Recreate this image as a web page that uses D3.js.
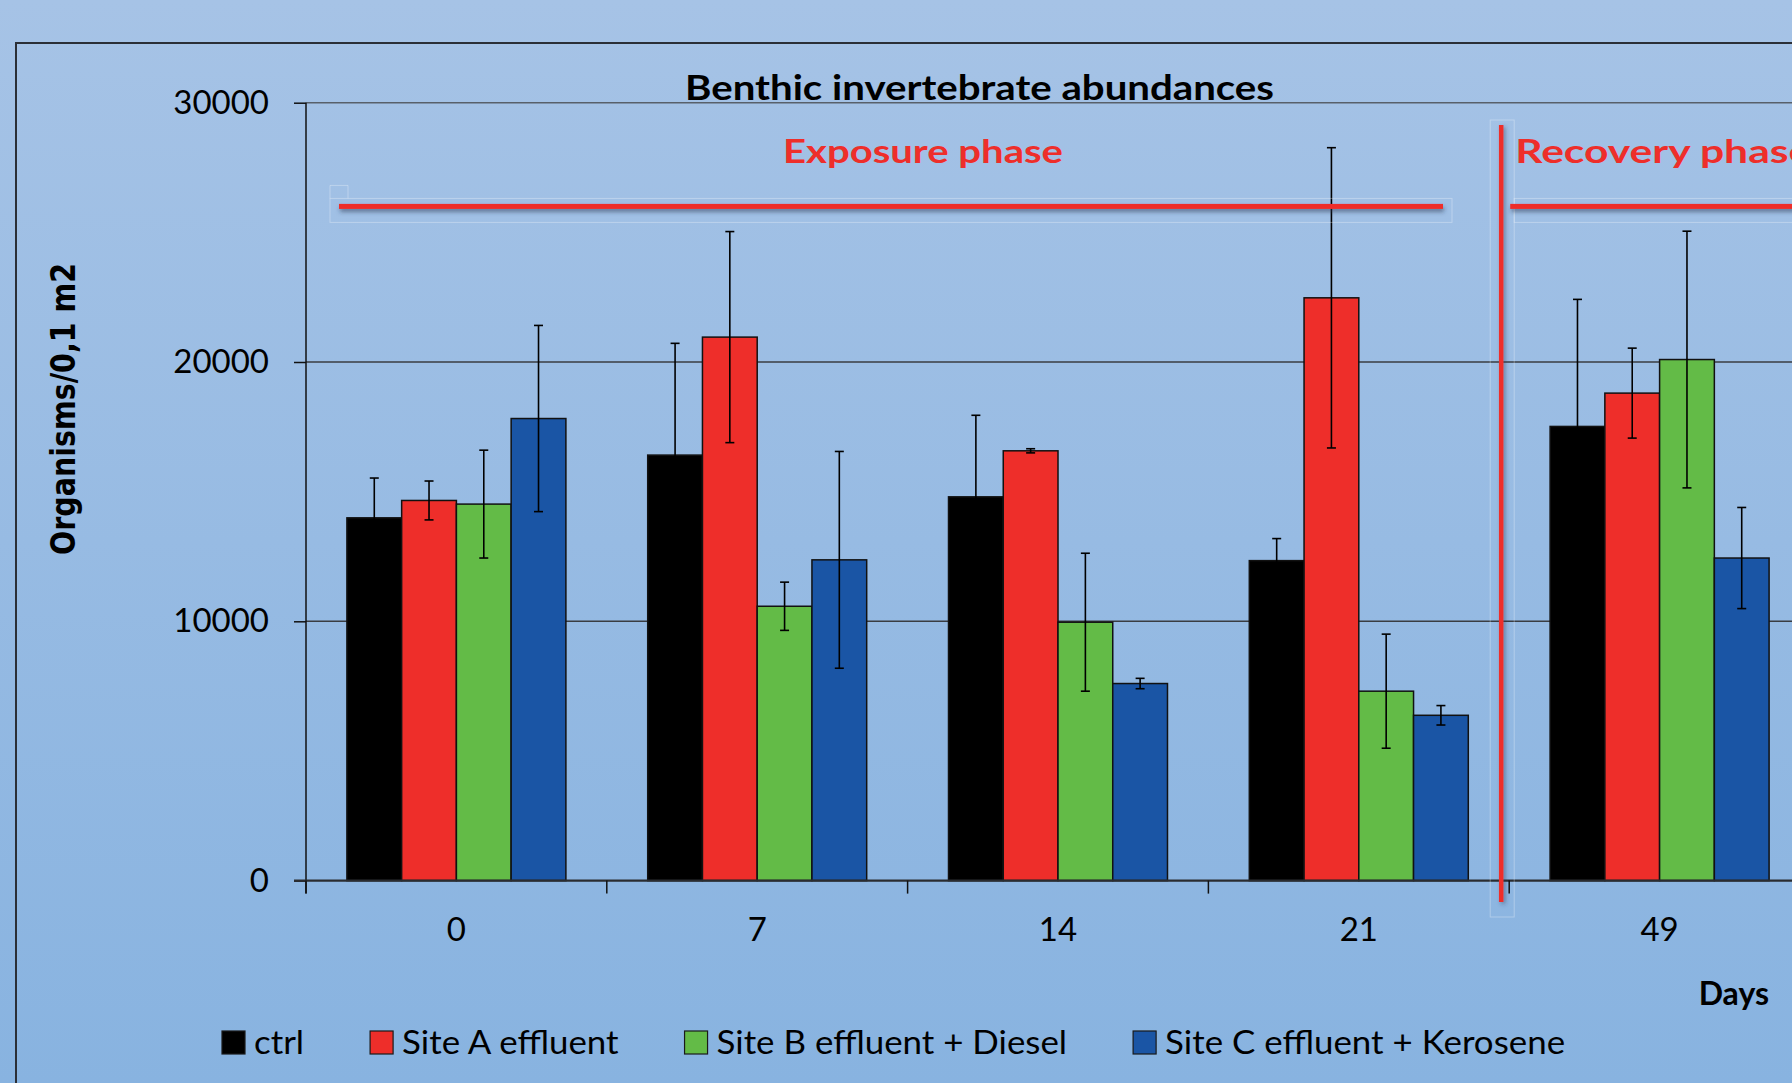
<!DOCTYPE html>
<html>
<head>
<meta charset="utf-8">
<script src="https://cdn.jsdelivr.net/npm/d3@7"></script>
<style>
  html, body { margin: 0; padding: 0; background: #9bbde4; }
  svg { display: block; }
</style>
</head>
<body>
<svg id="chart" width="1792" height="1083"></svg>
<script>
// ---------------- DATA ----------------
const days = ["0", "7", "14", "21", "49"];
const seriesNames = ["ctrl", "Site A effluent", "Site B effluent + Diesel", "Site C effluent + Kerosene"];
const ctrlValues  = [13990, 16410, 14800, 12340, 17515];
const ctrlErrors  = [1535, 4310, 3145, 850, 4900];
const siteAValues = [14660, 20960, 16575, 22475, 18800];
const siteAErrors = [750, 4070, 80, 5790, 1735];
const siteBValues = [14520, 10580, 9965, 7305, 20095];
const siteBErrors = [2080, 930, 2660, 2200, 4950];
const siteCValues = [17820, 12370, 7600, 6375, 12440];
const siteCErrors = [3590, 4180, 200, 375, 1950];
const yTicks = [0, 10000, 20000, 30000];
const chartTitle = "Benthic invertebrate abundances";
const yTitle = "Organisms/0,1 m2";
const xTitle = "Days";
const phaseLabels = ["Exposure phase", "Recovery phase"];
const phaseLineValue = 26000;

// ---------------- BUILD ----------------
const seriesValues = [ctrlValues, siteAValues, siteBValues, siteCValues];
const seriesErrors = [ctrlErrors, siteAErrors, siteBErrors, siteCErrors];
const colors = ["#000000", "#EE2E2A", "#63BB47", "#1A55A5"];
const red = "#EE2E2A";

const rows = [];
days.forEach((d, i) => {
  seriesNames.forEach((s, j) => {
    rows.push({ day: d, series: s, value: seriesValues[j][i], err: seriesErrors[j][i], color: colors[j] });
  });
});

const W = 1792, H = 1083;
const pLeft = 306, pRight = 1810, pTop = 102.7, pBottom = 880.6;

const svg = d3.select("#chart");
const defs = svg.append("defs");
const grad = defs.append("linearGradient").attr("id", "bg").attr("x1", 0).attr("y1", 0).attr("x2", 0).attr("y2", 1);
grad.append("stop").attr("offset", "0%").attr("stop-color", "#A6C3E6");
grad.append("stop").attr("offset", "100%").attr("stop-color", "#88B3E0");
const sh = defs.append("filter").attr("id", "shadow").attr("filterUnits", "userSpaceOnUse")
  .attr("x", 0).attr("y", 0).attr("width", W).attr("height", H);
sh.append("feDropShadow").attr("dx", 1).attr("dy", 3).attr("stdDeviation", 2).attr("flood-color", "#2a3550").attr("flood-opacity", 0.55);
const shv = defs.append("filter").attr("id", "shadowv").attr("filterUnits", "userSpaceOnUse")
  .attr("x", 0).attr("y", 0).attr("width", W).attr("height", H);
shv.append("feDropShadow").attr("dx", 2).attr("dy", 2).attr("stdDeviation", 2).attr("flood-color", "#2a3550").attr("flood-opacity", 0.45);

svg.append("rect").attr("width", W).attr("height", H).attr("fill", "url(#bg)");

// outer frame
svg.append("path").attr("d", `M16,${H} V43 H${W}`).attr("fill", "none").attr("stroke", "#2b2f36").attr("stroke-width", 2);

const x0 = d3.scaleBand().domain(days).range([pLeft, pRight]).paddingInner(0.272).paddingOuter(0.136);
const x1 = d3.scaleBand().domain(seriesNames).range([0, x0.bandwidth()]);
const y = d3.scaleLinear().domain([0, 30000]).range([pBottom, pTop]);

// gridlines
svg.append("g").selectAll("line").data(yTicks.filter(t => t > 0)).join("line")
  .attr("x1", pLeft).attr("x2", W)
  .attr("y1", d => y(d)).attr("y2", d => y(d))
  .attr("stroke", d => d === 30000 ? "#58606a" : "#3a3d42").attr("stroke-width", 1.6);

// y axis
const yAxis = svg.append("g").attr("transform", `translate(${pLeft},0)`)
  .call(d3.axisLeft(y).tickValues(yTicks).tickSize(12).tickPadding(25).tickFormat(d3.format("d")));
yAxis.select(".domain").remove();
yAxis.selectAll(".tick line").attr("stroke", "#111").attr("stroke-width", 1.5);
yAxis.selectAll("text").attr("font-family", "Lato, 'Open Sans', sans-serif").attr("font-size", 33).attr("fill", "#000");
svg.append("line").attr("x1", pLeft).attr("x2", pLeft).attr("y1", pTop).attr("y2", pBottom + 13)
  .attr("stroke", "#111").attr("stroke-width", 1.5);

// bars
const bars = svg.append("g");
bars.selectAll("rect").data(rows).join("rect")
  .attr("x", d => x0(d.day) + x1(d.series))
  .attr("y", d => y(d.value))
  .attr("width", x1.bandwidth())
  .attr("height", d => y(0) - y(d.value))
  .attr("fill", d => d.color)
  .attr("stroke", "#111").attr("stroke-width", 1.5);

// error bars
const eb = svg.append("g").attr("stroke", "#000").attr("stroke-width", 1.6);
rows.forEach(d => {
  const cx = x0(d.day) + x1(d.series) + x1.bandwidth() / 2;
  const y1v = y(d.value + d.err), y2v = y(d.value - d.err);
  eb.append("line").attr("x1", cx).attr("x2", cx).attr("y1", y1v).attr("y2", y2v);
  eb.append("line").attr("x1", cx - 4.5).attr("x2", cx + 4.5).attr("y1", y1v).attr("y2", y1v);
  eb.append("line").attr("x1", cx - 4.5).attr("x2", cx + 4.5).attr("y1", y2v).attr("y2", y2v);
});

// x axis
svg.append("line").attr("x1", pLeft - 12).attr("x2", W).attr("y1", y(0)).attr("y2", y(0))
  .attr("stroke", "#2a2c30").attr("stroke-width", 2.2);
const xAxis = svg.append("g").attr("transform", `translate(0,${y(0)})`)
  .call(d3.axisBottom(x0).tickSize(0).tickPadding(37));
xAxis.select(".domain").remove();
xAxis.selectAll("text").attr("font-family", "Lato, 'Open Sans', sans-serif").attr("font-size", 33).attr("fill", "#000");
const boundaries = d3.range(days.length + 1).map(i => x0.range()[0] + i * x0.step());
svg.append("g").selectAll("line").data(boundaries).join("line")
  .attr("x1", d => d).attr("x2", d => d).attr("y1", y(0)).attr("y2", y(0) + 13)
  .attr("stroke", "#111").attr("stroke-width", 1.5);

// titles
svg.append("text").attr("x", 979.5).attr("y", 100).attr("text-anchor", "middle")
  .attr("font-family", "Lato, sans-serif").attr("font-weight", "bold").attr("font-size", 35)
  .attr("textLength", 589).attr("lengthAdjust", "spacingAndGlyphs")
  .text(chartTitle);

svg.append("text").attr("transform", "translate(75,409) scale(1.2,1) rotate(-90)")
  .attr("text-anchor", "middle")
  .attr("font-family", "'DejaVu Sans', sans-serif").attr("font-weight", "bold").attr("font-size", 28.5)
  .attr("textLength", 292).attr("lengthAdjust", "spacingAndGlyphs")
  .text(yTitle);

svg.append("text").attr("x", 1769).attr("y", 1005).attr("text-anchor", "end")
  .attr("font-family", "Lato, sans-serif").attr("font-weight", "bold").attr("font-size", 32)
  .text(xTitle);

// phase annotations
const divX = boundaries[4] - 8;
const ly = y(phaseLineValue);
const pl = svg.append("g");
pl.append("rect").attr("x", 330).attr("y", ly - 8).attr("width", 1122).attr("height", 24)
  .attr("fill", "none").attr("stroke", "rgba(255,255,255,0.3)").attr("stroke-width", 1);
pl.append("path").attr("d", `M330,${ly - 8} V${ly - 21} H348 V${ly - 8}`)
  .attr("fill", "none").attr("stroke", "rgba(255,255,255,0.3)").attr("stroke-width", 1);
pl.append("rect").attr("x", divX - 11).attr("y", 120).attr("width", 24).attr("height", 797)
  .attr("fill", "none").attr("stroke", "rgba(255,255,255,0.3)").attr("stroke-width", 1);
pl.append("rect").attr("x", divX + 13).attr("y", ly - 8).attr("width", 400).attr("height", 24)
  .attr("fill", "none").attr("stroke", "rgba(255,255,255,0.3)").attr("stroke-width", 1);

pl.append("rect").attr("x", 339).attr("y", ly - 2.5).attr("width", 1443 - 339).attr("height", 5)
  .attr("fill", red).attr("filter", "url(#shadow)");
pl.append("rect").attr("x", divX + 9).attr("y", ly - 2.5).attr("width", W - divX).attr("height", 5)
  .attr("fill", red).attr("filter", "url(#shadow)");
pl.append("rect").attr("x", divX - 2.25).attr("y", 125).attr("width", 4.5).attr("height", 777)
  .attr("fill", red).attr("filter", "url(#shadowv)");

svg.append("text").attr("x", 923).attr("y", 163).attr("text-anchor", "middle")
  .attr("font-family", "Lato, sans-serif").attr("font-weight", "bold").attr("font-size", 32)
  .attr("fill", red).attr("textLength", 280).attr("lengthAdjust", "spacingAndGlyphs")
  .text(phaseLabels[0]);
svg.append("text").attr("x", divX + 14).attr("y", 163)
  .attr("font-family", "Lato, sans-serif").attr("font-weight", "bold").attr("font-size", 32)
  .attr("fill", red).attr("textLength", 296).attr("lengthAdjust", "spacingAndGlyphs")
  .text(phaseLabels[1]);

// legend
const lg = svg.append("g");
let lx = 222;
seriesNames.forEach((s, j) => {
  lg.append("rect").attr("x", lx).attr("y", 1031).attr("width", 23).attr("height", 23)
    .attr("fill", colors[j]).attr("stroke", "#1a1a1a").attr("stroke-width", 1.2);
  const t = lg.append("text").attr("x", lx + 32).attr("y", 1054)
    .attr("font-family", "Lato, sans-serif").attr("font-size", 32).attr("fill", "#000").text(s);
  const w = t.node().getComputedTextLength() * 1.09;
  t.attr("textLength", w).attr("lengthAdjust", "spacingAndGlyphs");
  lx = lx + 32 + w + 66;
});
</script>
</body>
</html>
